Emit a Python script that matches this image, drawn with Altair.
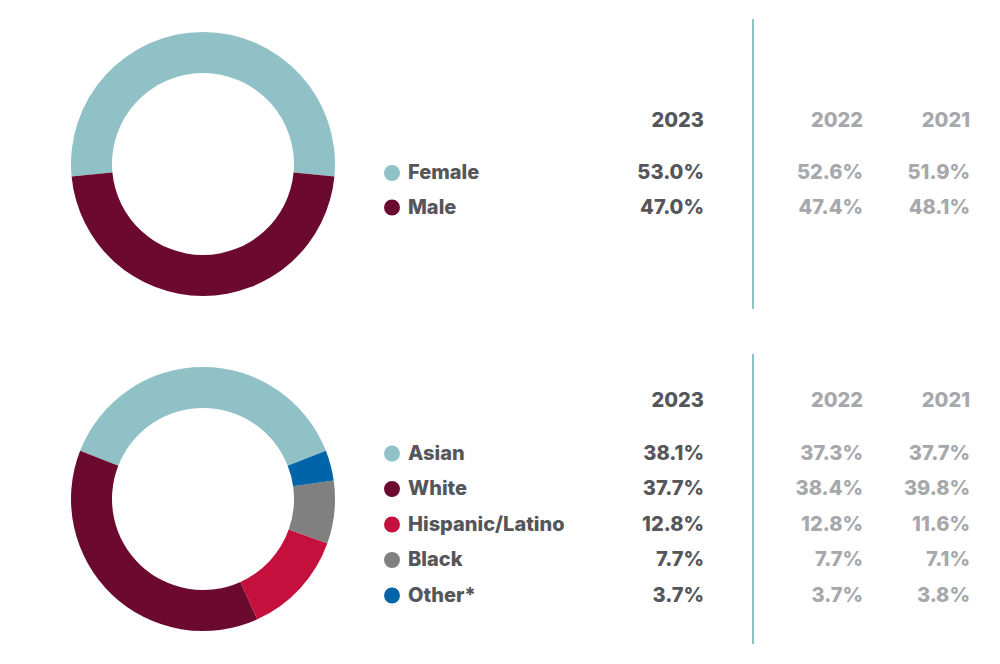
import math
import altair as alt
import pandas as pd

# ---- data ----
gender_labels = ["Female", "Male"]
gender_2023 = [53.0, 47.0]
gender_2022 = [52.6, 47.4]
gender_2021 = [51.9, 48.1]

eth_labels = ["Asian", "White", "Hispanic/Latino", "Black", "Other*"]
eth_2023 = [38.1, 37.7, 12.8, 7.7, 3.7]
eth_2022 = [37.3, 38.4, 12.8, 7.7, 3.7]
eth_2021 = [37.7, 39.8, 11.6, 7.1, 3.8]

years = ["2023", "2022", "2021"]

gender_arc_order = ["Female", "Male"]
eth_arc_order = ["Asian", "Other*", "Black", "Hispanic/Latino", "White"]

cat_domain = ["Female", "Male", "Asian", "White", "Hispanic/Latino", "Black", "Other*"]
cat_colors = ["#8FC1C6", "#6B0A2E", "#8FC1C6", "#6B0A2E", "#C50F3C", "#808080", "#0064A8"]

# ---- styles / layout ----
DARK = "#55565A"
LIGHT = "#A6A8AB"
TEAL = "#8FC1C6"
FONT = "Inter"
FW = 800
FS = 20
SEC_W_DONUT, SEC_W_TABLE, SEC_H = 264, 600, 290
col_x = {"dot": 12, "label": 28, "2023": 324, "line": 373, "2022": 483, "2021": 590}

color = alt.Color("label:N", scale=alt.Scale(domain=cat_domain, range=cat_colors), legend=None)


def section(labels, v23, v22, v21, arc_order, row_top, row_bottom, header_y):
    df = pd.DataFrame({"label": labels, "y2023": v23, "y2022": v22, "y2021": v21})
    df["order"] = [arc_order.index(l) for l in labels]
    a0 = -math.radians(v23[0] / 100 * 180)

    donut = alt.Chart(df).mark_arc(outerRadius=132, innerRadius=91).encode(
        theta=alt.Theta("y2023:Q", stack=True,
                        scale=alt.Scale(domain=[0, 100], range=[a0, a0 + 2 * math.pi])),
        order=alt.Order("order:Q"),
        color=color,
    ).properties(width=SEC_W_DONUT, height=SEC_H)

    y = alt.Y("label:N", axis=None,
              scale=alt.Scale(type="point", domain=labels, range=[row_top, row_bottom], padding=0))

    rule = alt.Chart(pd.DataFrame({"k": [0]})).mark_rule(color=TEAL, strokeWidth=2).encode(
        x=alt.value(col_x["line"]), y=alt.value(0), y2=alt.value(SEC_H)
    )
    dots = alt.Chart(df).mark_circle(size=254, opacity=1).encode(
        x=alt.value(col_x["dot"]), y=y, color=color
    )
    names = alt.Chart(df).mark_text(align="left", baseline="middle", font=FONT,
                                    fontWeight=FW, fontSize=FS, color=DARK).encode(
        x=alt.value(col_x["label"]), y=y, text="label:N"
    )
    layers = [rule, dots, names]
    for yr in years:
        c = DARK if yr == "2023" else LIGHT
        hdr = alt.Chart(pd.DataFrame({"year": [yr]})).mark_text(
            align="right", baseline="middle", font=FONT, fontWeight=FW, fontSize=FS, color=c
        ).encode(x=alt.value(col_x[yr]), y=alt.value(header_y), text="year:N")
        vals = alt.Chart(df).transform_calculate(
            txt=f"format(datum.y{yr}, '.1f') + '%'"
        ).mark_text(
            align="right", baseline="middle", font=FONT, fontWeight=FW, fontSize=FS, color=c
        ).encode(x=alt.value(col_x[yr]), y=y, text="txt:N")
        layers += [hdr, vals]

    table = alt.layer(*layers).properties(width=SEC_W_TABLE, height=SEC_H)
    return alt.hconcat(donut, table, spacing=45)


top = section(gender_labels, gender_2023, gender_2022, gender_2021, gender_arc_order,
              154, 188.5, 101.7)
bottom = section(eth_labels, eth_2023, eth_2022, eth_2021, eth_arc_order,
                 99.5, 241.5, 47)

chart = alt.vconcat(top, bottom, spacing=43).properties(
    padding={"left": 63, "top": 10, "right": 0, "bottom": 0}
).configure_view(strokeWidth=0)

chart.save("out.html", embed_options={"renderer": "svg", "actions": False})
